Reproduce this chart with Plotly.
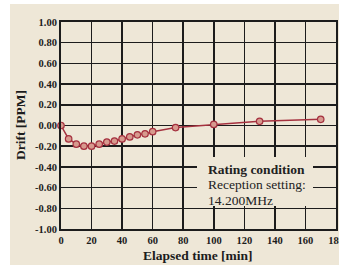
import plotly.graph_objects as go

# Data
elapsed_min = [0, 5, 10, 15, 20, 25, 30, 35, 40, 45, 50, 55, 60, 75, 100, 130, 170]
drift_ppm = [0.00, -0.13, -0.18, -0.20, -0.20, -0.18, -0.16, -0.15, -0.13, -0.11,
             -0.09, -0.08, -0.06, -0.02, 0.01, 0.04, 0.06]

x_ticks = [0, 20, 40, 60, 80, 100, 120, 140, 160, 180]
y_ticks = [1.0, 0.8, 0.6, 0.4, 0.2, 0.0, -0.2, -0.4, -0.6, -0.8, -1.0]
y_tick_labels = ["1.00", "0.80", "0.60", "0.40", "0.20", "0.00",
                 "-0.20", "-0.40", "-0.60", "-0.80", "-1.00"]
note_lines = ["<b>Rating condition</b>", "Reception setting:", "14.200MHz"]

BG = "#EEE7D7"
INK = "#1c1c1c"
SERIF = "Liberation Serif, DejaVu Serif, serif"

# figure is a little wider than the window so the last tick label is cut at the edge
W, H = 352, 267
L, R, T, B = 61, 16, 22, 38
pw, ph = W - L - R, H - T - B

def px_x(p):
    return (p - L) / pw

def px_y(p):
    return (H - B - p) / ph

fig = go.Figure()
fig.add_trace(go.Scatter(
    x=elapsed_min, y=drift_ppm, mode="lines+markers",
    line=dict(color="#A5313F", width=1.5),
    marker=dict(size=6.5, color="#D79A8E", line=dict(color="#A5313F", width=1.2)),
    cliponaxis=False, showlegend=False,
))

annotations = []
for i, line in enumerate(note_lines):
    annotations.append(dict(
        xref="paper", yref="paper", x=px_x(206), y=px_y(169 + 15.5 * i),
        xanchor="left", yanchor="middle", align="left", showarrow=False,
        text=line, font=dict(size=13.5, family=SERIF, color="#222222"),
    ))
annotations.append(dict(
    xref="paper", yref="paper", x=px_x(198), y=px_y(256),
    xanchor="center", yanchor="middle", showarrow=False,
    text="<b>Elapsed time [min]</b>", font=dict(size=13.5, family=SERIF, color=INK),
))
annotations.append(dict(
    xref="paper", yref="paper", x=px_x(20), y=px_y(125),
    xanchor="center", yanchor="middle", showarrow=False, textangle=-90,
    text="<b>Drift [PPM]</b>", font=dict(size=13.5, family=SERIF, color=INK),
))

fig.update_layout(
    width=W, height=H,
    margin=dict(l=L, r=R, t=T, b=B, autoexpand=False),
    paper_bgcolor="white",
    plot_bgcolor=BG,
    font=dict(family=SERIF, color=INK),
    shapes=[
        dict(type="rect", xref="paper", yref="paper",
             x0=px_x(10), x1=px_x(W + 5), y0=px_y(265), y1=px_y(4),
             fillcolor=BG, line=dict(width=0), layer="below"),
        dict(type="rect", xref="paper", yref="paper",
             x0=px_x(197), x1=px_x(313), y0=px_y(206), y1=px_y(157),
             fillcolor=BG, line=dict(width=0), layer="above"),
    ],
    annotations=annotations,
)

fig.update_xaxes(
    range=[0, 180], tickvals=x_ticks, ticktext=[str(v) for v in x_ticks],
    showgrid=True, gridcolor=INK, gridwidth=1.5,
    showline=True, linecolor=INK, linewidth=2, mirror=True,
    zeroline=False, ticks="", automargin=False,
    tickfont=dict(size=10.5, family=SERIF, color=INK, weight="bold"),
)
fig.update_yaxes(
    range=[-1, 1], tickvals=y_ticks, ticktext=y_tick_labels,
    showgrid=True, gridcolor=INK, gridwidth=1.5,
    showline=True, linecolor=INK, linewidth=2, mirror=True,
    zeroline=False, ticks="", automargin=False,
    tickfont=dict(size=10.5, family=SERIF, color=INK, weight="bold"),
)

fig.write_html("out.html",
               config={"displayModeBar": False, "staticPlot": True},
               post_script="document.body.style.margin='0';document.body.style.overflow='hidden';")
